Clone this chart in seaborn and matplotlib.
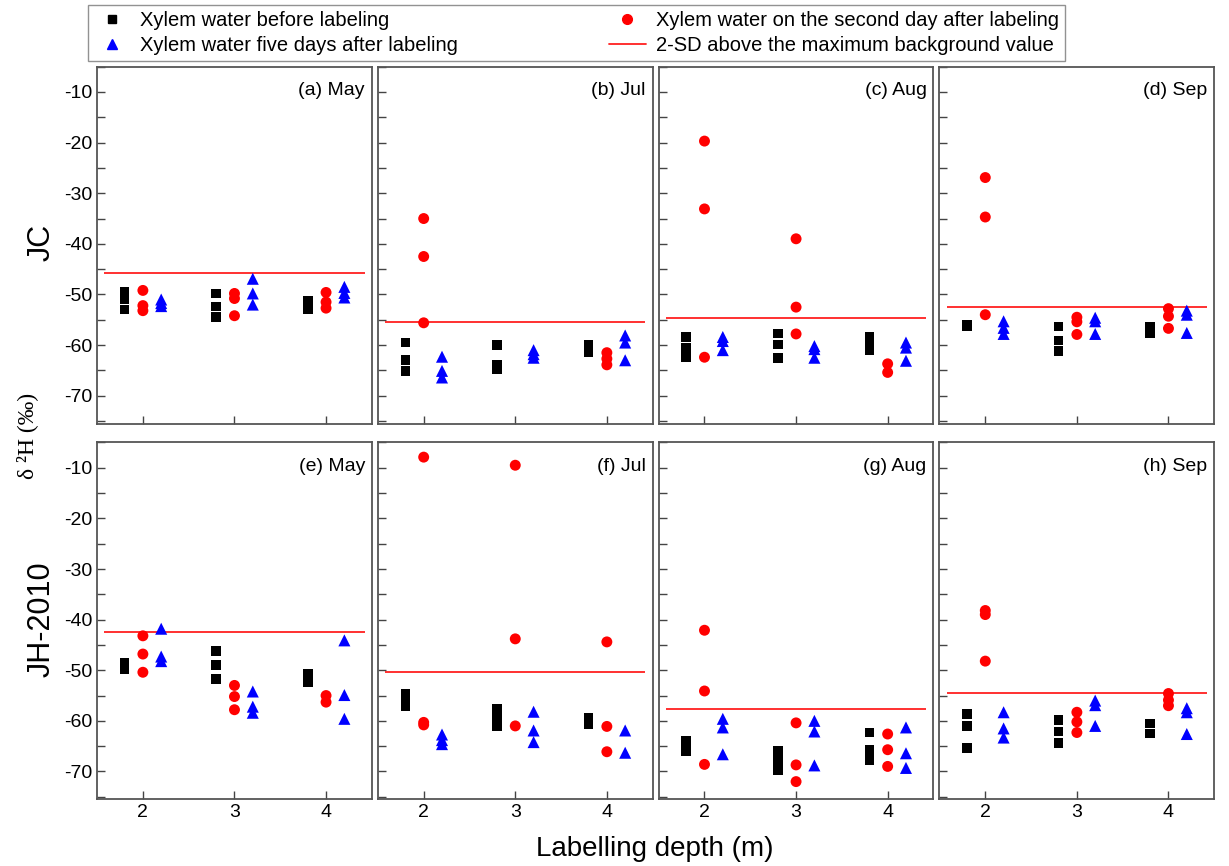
import matplotlib
matplotlib.use("Agg")
import matplotlib.pyplot as plt
from matplotlib.lines import Line2D
from matplotlib.ticker import MultipleLocator
import seaborn as sns
import pandas as pd

depths = [2, 3, 4]
panel_titles = ["(a) May", "(b) Jul", "(c) Aug", "(d) Sep",
                "(e) May", "(f) Jul", "(g) Aug", "(h) Sep"]
row_names = ["JC", "JH-2010"]

# threshold: 2-SD above the maximum background value, one per panel
thresholds = [-45.8, -55.4, -54.7, -52.5, -42.4, -50.3, -57.7, -54.5]

# each list: values at depth 2, 3, 4 m
a_before = [[-49.5, -51.0, -53.0], [-49.8, -52.4, -54.4], [-51.2, -52.3, -53.0]]
a_day2 = [[-49.2, -52.2, -53.2], [-49.8, -50.8, -54.2], [-49.6, -51.5, -52.7]]
a_day5 = [[-51.0, -51.7, -52.3], [-46.9, -49.8, -52.0], [-48.5, -49.7, -50.6]]

b_before = [[-59.5, -62.9, -65.1], [-60.0, -63.8, -64.8], [-60.0, -60.8, -61.4]]
b_day2 = [[-35.0, -42.5, -55.6], [], [-61.5, -62.7, -63.9]]
b_day5 = [[-62.3, -65.1, -66.4], [-61.0, -61.8, -62.5], [-58.1, -59.5, -63.0]]

c_before = [[-58.4, -60.5, -62.4], [-57.7, -59.9, -62.5], [-58.4, -59.7, -61.0]]
c_day2 = [[-19.7, -33.1, -62.4], [-39.0, -52.5, -57.8], [-63.7, -65.4]]
c_day5 = [[-58.4, -59.2, -61.0], [-60.2, -60.8, -62.5], [-59.5, -60.5, -63.1]]

d_before = [[-55.9, -56.3], [-56.3, -59.1, -61.2], [-56.3, -57.0, -57.6]]
d_day2 = [[-26.9, -34.7, -54.0], [-54.5, -55.4, -57.9], [-52.8, -54.3, -56.7]]
d_day5 = [[-55.3, -56.6, -57.8], [-54.6, -55.3, -57.8], [-53.2, -54.0, -57.6]]

e_before = [[-48.5, -49.8], [-46.2, -49.0, -51.7], [-50.8, -52.4]]
e_day2 = [[-43.2, -46.8, -50.4], [-53.0, -55.2, -57.8], [-55.0, -56.3]]
e_day5 = [[-41.8, -47.3, -48.2], [-54.2, -57.2, -58.4], [-44.1, -54.9, -59.6]]

f_before = [[-54.6, -55.8, -57.1], [-57.7, -59.5, -61.0], [-59.3, -60.7]]
f_day2 = [[-7.9, -60.3, -60.8], [-9.5, -43.8, -61.0], [-44.4, -61.1, -66.1]]
f_day5 = [[-62.7, -63.8, -64.6], [-58.2, -61.9, -64.2], [-61.9, -66.3]]

g_before = [[-64.0, -65.9], [-65.9, -67.7, -69.7], [-62.3, -65.7, -67.7]]
g_day2 = [[-42.1, -54.1, -68.6], [-60.4, -68.7, -72.0], [-62.6, -65.7, -69.0]]
g_day5 = [[-59.6, -61.3, -66.6], [-60.0, -62.1, -68.8], [-61.3, -66.4, -69.3]]

h_before = [[-58.7, -61.0, -65.4], [-59.8, -62.1, -64.4], [-60.5, -62.5]]
h_day2 = [[-38.2, -39.0, -48.2], [-58.3, -60.2, -62.3], [-54.6, -55.9, -57.0]]
h_day5 = [[-58.3, -61.5, -63.3], [-56.0, -56.9, -61.0], [-57.5, -58.3, -62.6]]

panels = [
    (a_before, a_day2, a_day5), (b_before, b_day2, b_day5),
    (c_before, c_day2, c_day5), (d_before, d_day2, d_day5),
    (e_before, e_day2, e_day5), (f_before, f_day2, f_day5),
    (g_before, g_day2, g_day5), (h_before, h_day2, h_day5),
]

series_names = ["Xylem water before labeling",
                "Xylem water on the second day after labeling",
                "Xylem water five days after labeling"]
offsets = [-0.2, 0.0, 0.2]
colors = ["black", "#ff0000", "#0000ff"]
markers = ["s", "o", "^"]
sizes = [48, 62, 75]

rows = []
for p, groups in enumerate(panels):
    for k, grp in enumerate(groups):
        for d, vals in zip(depths, grp):
            for v in vals:
                rows.append({"panel": p, "series": k, "x": d + offsets[k], "value": v})
df = pd.DataFrame(rows)

sns.set_style("ticks")
plt.rcParams["font.family"] = ["Liberation Sans", "DejaVu Sans"]
plt.rcParams["axes.unicode_minus"] = False
plt.rcParams["text.color"] = "black"

fig, axes = plt.subplots(2, 4, figsize=(12.29, 8.66), dpi=100)
fig.subplots_adjust(left=0.079, right=0.988, top=0.923, bottom=0.077,
                    wspace=0.022, hspace=0.053)

for p, ax in enumerate(axes.flat):
    sub = df[df.panel == p]
    ax.hlines(thresholds[p], 1.58, 4.42, color="#ff2020", lw=1.3, zorder=1)
    for k in range(3):
        s = sub[sub.series == k]
        sns.scatterplot(data=s, x="x", y="value", ax=ax, color=colors[k],
                        marker=markers[k], s=sizes[k], edgecolor="none",
                        legend=False, zorder=3)
    ax.set_xlim(1.5, 4.5)
    ax.set_ylim(-75.5, -5)
    ax.set_xticks(depths)
    ax.yaxis.set_major_locator(MultipleLocator(10))
    ax.yaxis.set_minor_locator(MultipleLocator(5))
    ax.set_yticks(range(-70, 0, 10))
    ax.tick_params(which="both", direction="in", length=6, width=1,
                   color="#444444", labelcolor="black", labelsize=14)
    ax.set_xlabel("")
    ax.set_ylabel("")
    for sp in ax.spines.values():
        sp.set_visible(True)
        sp.set_color("#555555")
        sp.set_linewidth(1.3)
    ax.text(0.975, 0.933, panel_titles[p], transform=ax.transAxes,
            ha="right", va="center", fontsize=14)
    if p % 4 != 0:
        ax.tick_params(labelleft=False)
    if p < 4:
        ax.tick_params(labelbottom=False)

fig.text(0.034, 0.72, row_names[0], rotation=90, ha="center", va="center", fontsize=22)
fig.text(0.034, 0.285, row_names[1], rotation=90, ha="center", va="center", fontsize=22)
fig.text(0.022, 0.497, "δ ²H (‰)", rotation=90, ha="center", va="center",
         fontsize=17, family=["Liberation Serif", "DejaVu Serif"])
fig.text(0.533, 0.02, "Labelling depth (m)", ha="center", va="center", fontsize=20)

handles = [
    Line2D([], [], ls="none", marker="s", color="black", markersize=6),
    Line2D([], [], ls="none", marker="^", color="#0000ff", markersize=7),
    Line2D([], [], ls="none", marker="o", color="#ff0000", markersize=7),
    Line2D([], [], color="#ff2020", lw=1.3),
]
labels = [series_names[0], series_names[2], series_names[1],
          "2-SD above the maximum background value"]
leg = fig.legend(handles, labels, ncol=2, loc="upper center",
                 bbox_to_anchor=(0.469, 0.994), borderaxespad=0,
                 fontsize=14.5, frameon=True,
                 fancybox=False, edgecolor="#777777", handlelength=1.8,
                 handletextpad=0.5, columnspacing=7.5, borderpad=0.3,
                 labelspacing=0.3)
leg.get_frame().set_linewidth(1.0)

fig.savefig("out.png", dpi=100)
